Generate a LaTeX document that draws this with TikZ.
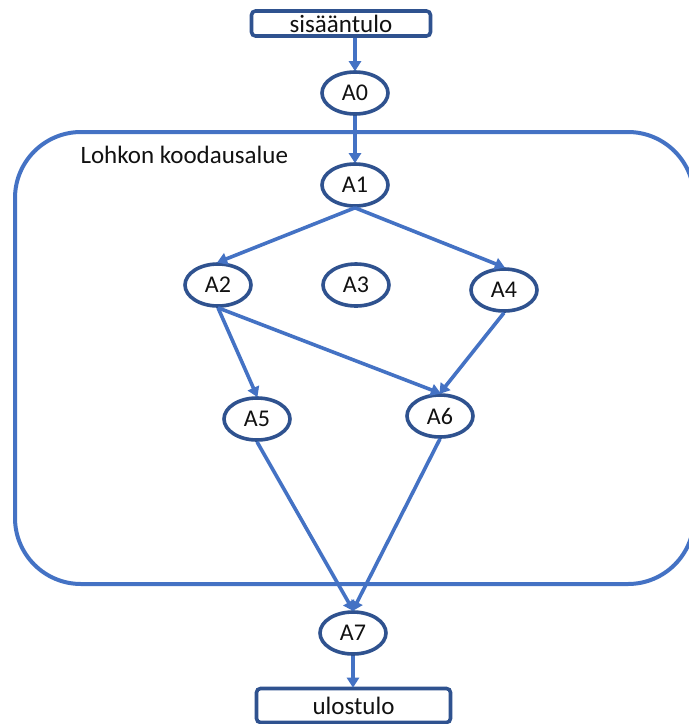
\documentclass[tikz,border=0pt]{standalone}
\usepackage{fontspec}
\setmainfont{Carlito}
\usetikzlibrary{shapes.geometric,arrows.meta}
\definecolor{edgeblue}{HTML}{4472C4}
\definecolor{rimblue}{HTML}{2F528F}
\definecolor{ink}{HTML}{111111}
\tikzset{
  stage/.style={ellipse,draw=rimblue,line width=3.6pt,fill=white,inner sep=0pt,
    minimum width=66pt,minimum height=42pt,font=\fontsize{24}{24}\selectfont,text=ink},
  iobox/.style={rectangle,rounded corners=4pt,draw=rimblue,line width=3.6pt,fill=white,
    inner sep=0pt,font=\fontsize{25}{25}\selectfont,text=ink},
  flow/.style={draw=edgeblue,line width=3.6pt,-{Triangle[length=10pt,width=12pt]},shorten >=-1pt},
  region/.style={draw=edgeblue,line width=4pt,rounded corners=66pt}
}
\begin{document}
\begin{tikzpicture}[x=1pt,y=-1pt]
  \useasboundingbox (0,0) rectangle (689,724);
  \fill[white] (0,0) rectangle (689,724);

  % block region
  \draw[region] (15,132) rectangle (694,584);
  \node[anchor=base west,font=\fontsize{25}{25}\selectfont,text=ink] (regionlabel) at (77,163) {Lohkon koodausalue};

  % input / output boxes
  \node[iobox,minimum width=179pt,minimum height=25pt] (in) at (341,23.5) {sisääntulo};
  \node[iobox,minimum width=194pt,minimum height=34pt] (out) at (353.5,705.5) {ulostulo};

  % stages
  \node[stage] (A0) at (355,93) {A0};
  \node[stage] (A1) at (355,185) {A1};
  \node[stage] (A2) at (218,285) {A2};
  \node[stage] (A3) at (356,285) {A3};
  \node[stage] (A4) at (504,290) {A4};
  \node[stage] (A5) at (257,419) {A5};
  \node[stage] (A6) at (440,416) {A6};
  \node[stage] (A7) at (353,633) {A7};

  % connectors
  \draw[flow] (in.south -| A0.north) -- (A0.north);
  \draw[flow] (A0.south) -- (A1.north);
  \draw[flow] (A1.south) -- (A2.north);
  \draw[flow] (A1.south) -- (A4.north);
  \draw[flow] (A2.south) -- (A5.north);
  \draw[flow] (A2.south) -- (A6.north);
  \draw[flow] (A4.south) -- (A6.north);
  \draw[flow] (A5.south) -- (A7.north);
  \draw[flow] (A6.south) -- (A7.north);
  \draw[flow] (A7.south) -- (out.north -| A7.south);
\end{tikzpicture}
\end{document}
